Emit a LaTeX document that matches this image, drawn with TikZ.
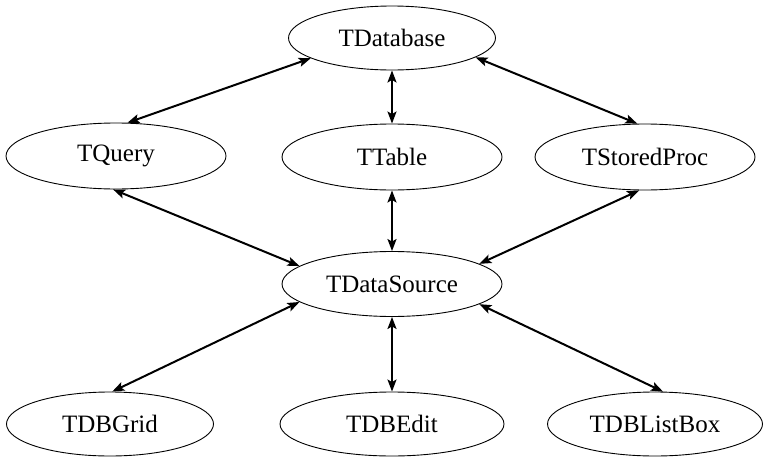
\documentclass[tikz,border=0pt]{standalone}
\usepackage{fontspec}
\setmainfont{Liberation Serif}
\usetikzlibrary{shapes.geometric,arrows.meta}
\tikzset{
  cls/.style={ellipse, draw=black, line width=0.9pt, inner sep=0pt,
    minimum width=220pt, minimum height=66pt,
    font=\fontsize{25}{30}\selectfont},
  link/.style={line width=2pt, {Stealth[length=12pt,width=9pt,inset=2.5pt]}-{Stealth[length=12pt,width=9pt,inset=2.5pt]}}
}
\begin{document}
\begin{tikzpicture}[x=1pt,y=-1pt]
\fill[white] (0,0) rectangle (763,458);
\useasboundingbox (0,0) rectangle (763,458);
\node[cls, minimum width=207pt, minimum height=64pt] (db) at (392,38) {TDatabase};
\node[cls] (tq) at (116,156) {TQuery};
\node[cls] (tt) at (392,157) {TTable};
\node[cls] (sp) at (645,157) {TStoredProc};
\node[cls, minimum height=65pt] (ds) at (392,284) {TDataSource};
\node[cls, minimum width=207pt, minimum height=64pt] (grid) at (110,424) {TDBGrid};
\node[cls, minimum width=224pt, minimum height=64pt] (edit) at (392,424) {TDBEdit};
\node[cls, minimum width=215pt, minimum height=64pt] (lb) at (655,424) {TDBListBox};
\draw[link] (db.194) -- (tq.71);
\draw[link] (db.south) -- (tt.north);
\draw[link] (db.347) -- (sp.103);
\draw[link] (tq.265) -- (ds.169);
\draw[link] (tt.south) -- (ds.north);
\draw[link] (sp.260) -- (ds.13);
\draw[link] (ds.191) -- (grid.86);
\draw[link] (ds.south) -- (edit.north);
\draw[link] (ds.347) -- (lb.76);
\end{tikzpicture}
\end{document}
